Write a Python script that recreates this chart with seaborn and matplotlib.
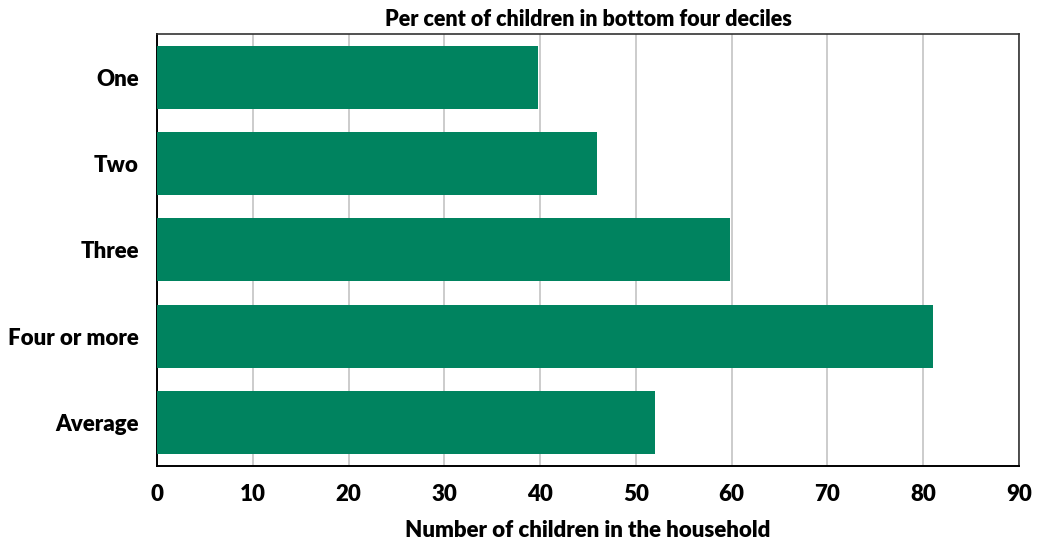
import matplotlib
matplotlib.use("Agg")
import matplotlib.pyplot as plt
import seaborn as sns
import pandas as pd

categories = ["One", "Two", "Three", "Four or more", "Average"]
values = [39.8, 45.9, 59.8, 81.0, 52.0]
xticks = [0, 10, 20, 30, 40, 50, 60, 70, 80, 90]

sns.set_style("white")
plt.rcParams["font.family"] = ["Lato", "DejaVu Sans"]
plt.rcParams["text.color"] = "#000000"
plt.rcParams["xtick.color"] = "#000000"
plt.rcParams["ytick.color"] = "#000000"
plt.rcParams["axes.labelcolor"] = "#000000"

df = pd.DataFrame({"cat": categories, "val": values})

fig = plt.figure(figsize=(10.42, 5.42), dpi=100)
ax = fig.add_axes([157 / 1042, 1 - 465.7 / 542, (1019 - 157) / 1042, (465.7 - 34) / 542])

sns.barplot(data=df, y="cat", x="val", orient="h", color="#00835F",
            saturation=1, width=0.73, ax=ax, edgecolor="none", zorder=3)

ax.set_xlim(0, 90)
ax.set_ylim(4.5, -0.5)
ax.set_xticks(xticks)
ax.set_xticklabels([str(t) for t in xticks], fontsize=16, fontweight="heavy")
ax.set_yticks(range(len(categories)))
ax.set_yticklabels(categories, fontsize=16, fontweight="heavy")
ax.tick_params(axis="y", length=0, pad=13)
ax.tick_params(axis="x", length=0, pad=13)

ax.grid(axis="x", color="#c8c8c8", linewidth=1.3, zorder=0)
ax.grid(axis="y", visible=False)
ax.set_axisbelow(True)

for s in ["left", "bottom"]:
    ax.spines[s].set_color("#000000")
    ax.spines[s].set_linewidth(1.4)
for s in ["top", "right"]:
    ax.spines[s].set_color("#333333")
    ax.spines[s].set_linewidth(1.2)

ax.set_ylabel("")
ax.set_xlabel("Number of children in the household", fontsize=16, fontweight="heavy", labelpad=11)
ax.set_title("Per cent of children in bottom four deciles", fontsize=15.5, fontweight="heavy", pad=6)

fig.savefig("out.png", dpi=100)
